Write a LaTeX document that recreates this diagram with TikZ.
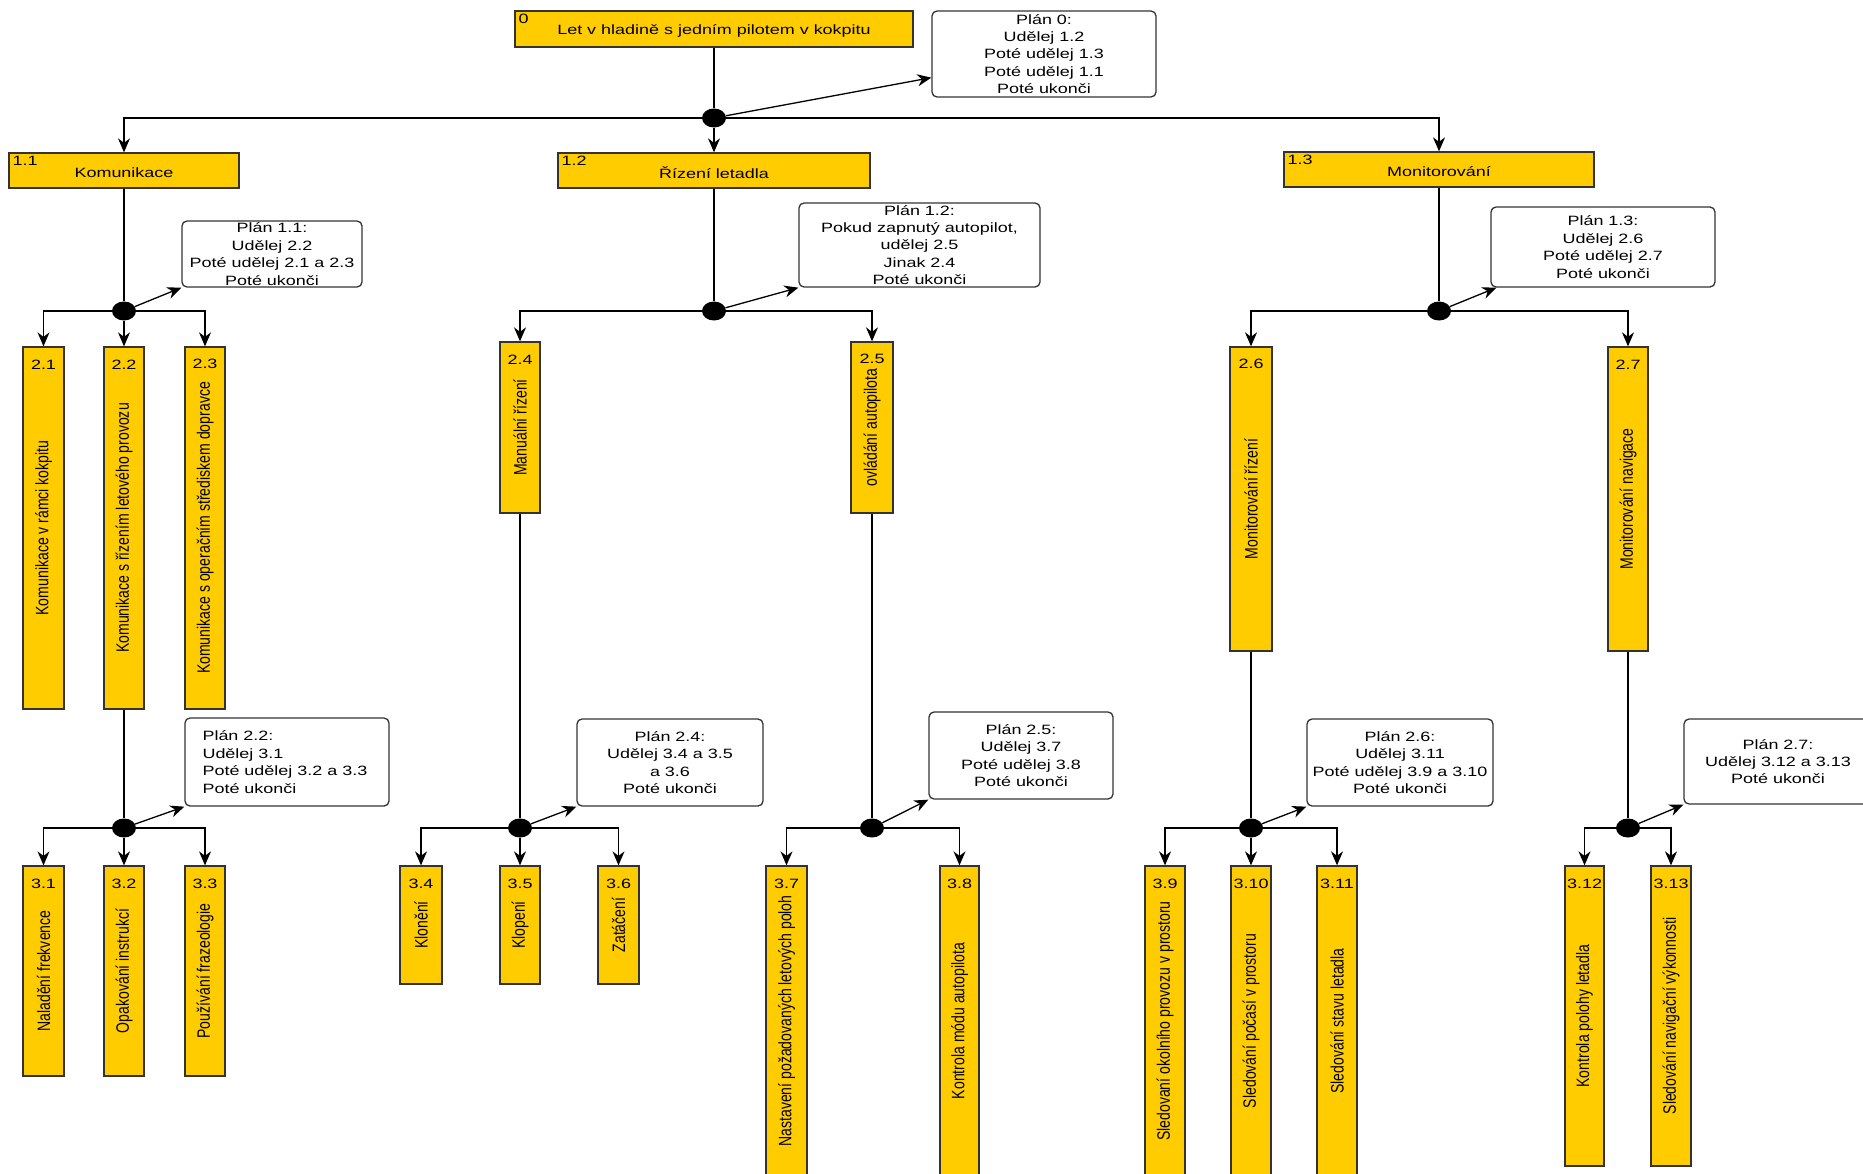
\documentclass[tikz,border=0pt]{standalone}
\usepackage{fontspec}
\setmainfont{Liberation Sans}
% horizontal labels are set wide, rotated labels are set narrow and tall
\newfontfamily\hfam[FakeStretch=1.33]{Liberation Sans}
\newfontfamily\vfam[FakeStretch=0.78]{Liberation Sans}
\usetikzlibrary{arrows.meta,shapes.geometric}

\definecolor{taskfill}{HTML}{FFCC00}
\definecolor{taskline}{HTML}{333333}

\tikzset{
  connline/.style={line width=1.3pt, draw=black},
  arrowline/.style={connline, -{Stealth[length=14pt,width=12pt,inset=4.5pt]}},
  taskbox/.style={rectangle, draw=taskline, fill=taskfill, line width=1.3pt, inner sep=0pt},
  planbox/.style={rectangle, draw=taskline, fill=white, line width=1.3pt, rounded corners=5pt, inner sep=0pt},
  htext/.style={font=\hfam\fontsize{13.5}{17.4}\selectfont, inner sep=0pt, align=center, text=black},
  vtext/.style={font=\vfam\fontsize{18}{20}\selectfont, inner sep=0pt, rotate=90, text=black},
  junction/.style={ellipse, fill=black, minimum width=24pt, minimum height=19pt, inner sep=0pt},
}

% wide task box: name, x1, y1, x2, y2, number, title
\newcommand{\toptask}[7]{%
  \node[taskbox, minimum width={#4-#2}, minimum height={#5-#3},
    label={[htext, anchor=north west, xshift=4pt, yshift=-4pt]north west:#6},
    label={[htext, yshift=-2pt]center:#7}] (#1) at ({(#2+#4)/2},{(#3+#5)/2}) {};}

% upright task bar: name, centre x, width, top, bottom, number, title
\newcommand{\leaftask}[7]{%
  \node[taskbox, minimum width=#3, minimum height={#5-#4},
    label={[htext, anchor=center, yshift=-18pt]north:#6},
    label={[vtext]center:#7}] (#1) at (#2,{(#4+#5)/2}) {};}

\begin{document}
\begin{tikzpicture}[x=1pt, y=-1pt]
\path[use as bounding box, fill=white] (0,0) rectangle (1863,1174);

% ---------- task hierarchy ----------
\toptask{t0}{515}{11}{913}{47}{0}{Let v hladině s jedním pilotem v kokpitu}
\toptask{t11}{9}{153}{239}{188}{1.1}{Komunikace}
\toptask{t12}{558}{153}{870}{188}{1.2}{Řízení letadla}
\toptask{t13}{1284}{152}{1594}{187}{1.3}{Monitorování}

\leaftask{t21}{43.5}{41}{347}{709}{2.1}{Komunikace v rámci kokpitu}
\leaftask{t22}{124}{40}{347}{709}{2.2}{Komunikace s řízením letového provozu}
\leaftask{t23}{205}{40}{347}{709}{2.3}{Komunikace s operačním střediskem dopravce}
\leaftask{t24}{520}{40}{342}{513}{2.4}{Manuální řízení}
\leaftask{t25}{872}{42}{342}{513}{2.5}{ovládání autopilota}
\leaftask{t26}{1251}{42}{347}{651}{2.6}{Monitorování řízení}
\leaftask{t27}{1628}{40}{347}{651}{2.7}{Monitorování navigace}

\leaftask{t31}{43.5}{41}{866}{1076}{3.1}{Naladění frekvence}
\leaftask{t32}{124}{40}{866}{1076}{3.2}{Opakování instrukcí}
\leaftask{t33}{205}{40}{866}{1076}{3.3}{Používání frazeologie}
\leaftask{t34}{421}{42}{866}{984}{3.4}{Klonění}
\leaftask{t35}{520}{40}{866}{984}{3.5}{Klopení}
\leaftask{t36}{618.5}{41}{866}{984}{3.6}{Zatáčení}
\leaftask{t37}{786.5}{41}{866}{1176}{3.7}{Nastavení požadovaných letových poloh}
\leaftask{t38}{959.5}{39}{866}{1176}{3.8}{Kontrola módu autopilota}
\leaftask{t39}{1165}{40}{866}{1176}{3.9}{Sledovaní okolního provozu v prostoru}
\leaftask{t310}{1251}{40}{866}{1176}{3.10}{Sledování počasí v prostoru}
\leaftask{t311}{1337}{40}{866}{1176}{3.11}{Sledování stavu letadla}
\leaftask{t312}{1584.5}{39}{866}{1166}{3.12}{Kontrola polohy letadla}
\leaftask{t313}{1671}{40}{866}{1166}{3.13}{Sledování navigační výkonnosti}

% ---------- plans ----------
\node[planbox, minimum width=224, minimum height=86,
  label={[htext]center:{Plán 0:\\Udělej 1.2\\Poté udělej 1.3\\Poté udělej 1.1\\Poté ukonči}}] (p0) at (1044,54) {};
\node[planbox, minimum width=180, minimum height=66,
  label={[htext]center:{Plán 1.1:\\Udělej 2.2\\Poté udělej 2.1 a 2.3\\Poté ukonči}}] (p11) at (272,254) {};
\node[planbox, minimum width=241, minimum height=84,
  label={[htext]center:{Plán 1.2:\\Pokud zapnutý autopilot,\\udělej 2.5\\Jinak 2.4\\Poté ukonči}}] (p12) at (919.5,245) {};
\node[planbox, minimum width=224, minimum height=80,
  label={[htext]center:{Plán 1.3:\\Udělej 2.6\\Poté udělej 2.7\\Poté ukonči}}] (p13) at (1603,247) {};
\node[planbox, minimum width=204, minimum height=88,
  label={[htext, align=left, anchor=west, xshift=18pt]west:{Plán 2.2:\\Udělej 3.1\\Poté udělej 3.2 a 3.3\\Poté ukonči}}] (p22) at (287,762) {};
\node[planbox, minimum width=186, minimum height=87,
  label={[htext]center:{Plán 2.4:\\Udělej 3.4 a 3.5\\a 3.6\\Poté ukonči}}] (p24) at (670,762.5) {};
\node[planbox, minimum width=184, minimum height=87,
  label={[htext]center:{Plán 2.5:\\Udělej 3.7\\Poté udělej 3.8\\Poté ukonči}}] (p25) at (1021,755.5) {};
\node[planbox, minimum width=186, minimum height=87,
  label={[htext]center:{Plán 2.6:\\Udělej 3.11\\Poté udělej 3.9 a 3.10\\Poté ukonči}}] (p26) at (1400,762.5) {};
\node[planbox, minimum width=188, minimum height=85,
  label={[htext]center:{Plán 2.7:\\Udělej 3.12 a 3.13\\Poté ukonči}}] (p27) at (1778,761.5) {};

% ---------- junctions ----------
\node[junction] (d0)  at (714,118) {};
\node[junction] (d11) at (124,311) {};
\node[junction] (d12) at (714,311) {};
\node[junction] (d13) at (1439,311) {};
\node[junction] (d22) at (124,828) {};
\node[junction] (d24) at (520,828) {};
\node[junction] (d25) at (872,828) {};
\node[junction] (d26) at (1251,828) {};
\node[junction] (d27) at (1628,828) {};

% ---------- connectors ----------
\draw[connline] (t0) -- (d0);
\draw[arrowline] (d0) -| (t11.north);
\draw[arrowline] (d0) -- (t12);
\draw[arrowline] (d0) -| (t13.north);
\draw[arrowline] (d0) -- ([yshift=20pt]p0.south west);

\draw[connline] (t11) -- (d11);
\draw[arrowline] (d11) -- (p11.south west);
\draw[arrowline] (d11) -| (t21.north);
\draw[arrowline] (d11) -- (t22);
\draw[arrowline] (d11) -| (t23.north);

\draw[connline] (t12) -- (d12);
\draw[arrowline] (d12) -- (p12.south west);
\draw[arrowline] (d12) -| (t24.north);
\draw[arrowline] (d12) -| (t25.north);

\draw[connline] (t13) -- (d13);
\draw[arrowline] (d13) -- ([xshift=6pt]p13.south west);
\draw[arrowline] (d13) -| (t26.north);
\draw[arrowline] (d13) -| (t27.north);

\draw[connline] (t22) -- (d22);
\draw[arrowline] (d22) -- (p22.south west);
\draw[arrowline] (d22) -| (t31.north);
\draw[arrowline] (d22) -- (t32);
\draw[arrowline] (d22) -| (t33.north);

\draw[connline] (t24) -- (d24);
\draw[arrowline] (d24) -- (p24.south west);
\draw[arrowline] (d24) -| (t34.north);
\draw[arrowline] (d24) -- (t35);
\draw[arrowline] (d24) -| (t36.north);

\draw[connline] (t25) -- (d25);
\draw[arrowline] (d25) -- (p25.south west);
\draw[arrowline] (d25) -| (t37.north);
\draw[arrowline] (d25) -| (t38.north);

\draw[connline] (t26) -- (d26);
\draw[arrowline] (d26) -- (p26.south west);
\draw[arrowline] (d26) -| (t39.north);
\draw[arrowline] (d26) -- (t310);
\draw[arrowline] (d26) -| (t311.north);

\draw[connline] (t27) -- (d27);
\draw[arrowline] (d27) -- (p27.south west);
\draw[arrowline] (d27) -| (t312.north);
\draw[arrowline] (d27) -| (t313.north);
\end{tikzpicture}
\end{document}
